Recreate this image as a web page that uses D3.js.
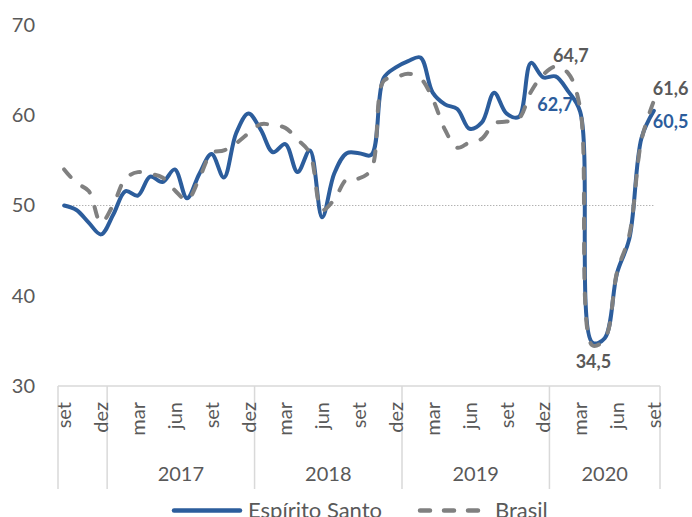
<!DOCTYPE html>
<html>
<head>
<meta charset="utf-8">
<script src="https://cdn.jsdelivr.net/npm/d3@7"></script>
<style>
  body { margin: 0; background: #fff; }
  svg { font-family: Lato, "Noto Sans", sans-serif; }
</style>
</head>
<body>
<div id="chart"></div>
<script>
const categories = [
  'set/2016', 'out/2016', 'nov/2016', 'dez/2016',
  'jan/2017', 'fev/2017', 'mar/2017', 'abr/2017', 'mai/2017', 'jun/2017',
  'jul/2017', 'ago/2017', 'set/2017', 'out/2017', 'nov/2017', 'dez/2017',
  'jan/2018', 'fev/2018', 'mar/2018', 'abr/2018', 'mai/2018', 'jun/2018',
  'jul/2018', 'ago/2018', 'set/2018', 'out/2018', 'nov/2018', 'dez/2018',
  'jan/2019', 'fev/2019', 'mar/2019', 'abr/2019', 'mai/2019', 'jun/2019',
  'jul/2019', 'ago/2019', 'set/2019', 'out/2019', 'nov/2019', 'dez/2019',
  'jan/2020', 'fev/2020', 'mar/2020', 'abr/2020', 'mai/2020', 'jun/2020',
  'jul/2020', 'ago/2020', 'set/2020'
];

const espiritoSanto = [
  50.0, 49.5, 48.1, 46.8,
  49.0, 51.6, 51.1, 53.2, 52.6, 54.0, 50.8, 53.5, 55.7, 53.1, 58.0, 60.2,
  58.4, 55.9, 56.8, 53.7, 56.1, 48.7, 53.6, 55.8, 55.8, 55.6, 64.1, 65.3,
  66.0, 66.4, 62.5, 61.2, 60.7, 58.5, 59.2, 62.5, 60.2, 59.8, 65.8, 64.2,
  64.3, 62.7, 60.4, 34.8, 35.3, 42.5, 46.3, 57.5, 60.5
];

const brasil = [
  54.0, 52.5, 51.6, 48.1,
  50.1, 53.0, 53.7, 53.5, 53.1, 51.7, 50.6, 53.0, 55.8, 56.1, 56.9, 58.0,
  59.0, 58.9, 58.6, 57.3, 55.8, 49.5, 50.7, 52.9, 53.0, 54.0, 63.8, 64.2,
  64.6, 64.1, 61.8, 58.4, 56.4, 57.0, 57.4, 59.1, 59.3, 59.6, 62.6, 64.5,
  65.4, 64.7, 60.8, 34.5, 35.2, 42.6, 46.7, 57.3, 61.6
];

const reference = 50;
const yTicks = [30, 40, 50, 60, 70];
const shownMonths = ['set', 'dez', 'mar', 'jun'];

// labelled points: [category, series, text]
const labels = [
  ['fev/2020', 'br', '64,7'],
  ['fev/2020', 'es', '62,7'],
  ['abr/2020', 'br', '34,5'],
  ['set/2020', 'br', '61,6'],
  ['set/2020', 'es', '60,5']
];

const width = 692, height = 517;
const blue = '#2c5d9c', gray = '#808080', text = '#595959';

const svg = d3.select('#chart').append('svg')
  .attr('width', width)
  .attr('height', height);

const x = d3.scaleBand()
  .domain(categories)
  .range([58, 660]);
const cx = c => x(c) + x.bandwidth() / 2;

const y = d3.scaleLinear()
  .domain([30, 70])
  .range([386, 25]);

// y axis labels
const yAxis = svg.append('g')
  .attr('transform', 'translate(58,0)')
  .call(d3.axisLeft(y).tickValues(yTicks).tickSize(0).tickPadding(23));
yAxis.select('.domain').remove();
yAxis.selectAll('text')
  .attr('fill', text)
  .style('font-size', '20px')
  .style('font-family', 'Lato, sans-serif');

// x axis
const axis = svg.append('g');
axis.append('line')
  .attr('x1', 58).attr('x2', 660)
  .attr('y1', y(30)).attr('y2', y(30))
  .attr('stroke', '#d9d9d9').attr('stroke-width', 1.5);

const year = c => c.split('/')[1];
const years = Array.from(new Set(categories.map(year)));
const groups = years.map(yr => {
  const cs = categories.filter(c => year(c) === yr);
  return { yr, x0: x(cs[0]), x1: x(cs[cs.length - 1]) + x.bandwidth(), n: cs.length };
});

const seps = [groups[0].x0].concat(groups.map(g => g.x1));
axis.selectAll('.sep')
  .data(seps)
  .enter().append('line')
  .attr('x1', d => d).attr('x2', d => d)
  .attr('y1', y(30)).attr('y2', 489)
  .attr('stroke', '#d9d9d9').attr('stroke-width', 1.5);

axis.selectAll('.month')
  .data(categories.filter(c => shownMonths.includes(c.split('/')[0])))
  .enter().append('text')
  .attr('transform', d => `translate(${cx(d)},402) rotate(-90)`)
  .attr('dy', '0.36em')
  .attr('text-anchor', 'end')
  .attr('fill', text)
  .style('font-size', '20px')
  .text(d => d.split('/')[0]);

axis.selectAll('.year')
  .data(groups.filter(g => g.n > 4))
  .enter().append('text')
  .attr('x', d => (d.x0 + d.x1) / 2)
  .attr('y', 481)
  .attr('text-anchor', 'middle')
  .attr('fill', text)
  .style('font-size', '20px')
  .text(d => d.yr);

// reference line at 50
svg.append('line')
  .attr('x1', cx(categories[0])).attr('x2', cx(categories[categories.length - 1]))
  .attr('y1', y(reference)).attr('y2', y(reference))
  .attr('stroke', '#a6a6a6')
  .attr('stroke-width', 1.2)
  .attr('stroke-dasharray', '1.2,1.8');

const line = d3.line()
  .x((d, i) => cx(categories[i]))
  .y(d => y(d))
  .curve(d3.curveCatmullRom.alpha(0.5));

svg.append('path')
  .attr('d', line(espiritoSanto))
  .attr('fill', 'none')
  .attr('stroke', blue)
  .attr('stroke-width', 4)
  .attr('stroke-linejoin', 'round')
  .attr('stroke-linecap', 'round');

svg.append('path')
  .attr('d', line(brasil))
  .attr('fill', 'none')
  .attr('stroke', gray)
  .attr('stroke-width', 4)
  .attr('stroke-linecap', 'round')
  .attr('stroke-dasharray', '10,15');

// data labels
const series = { es: espiritoSanto, br: brasil };
const offsets = {
  '64,7': [3, -11, 'middle'],
  '62,7': [5, 20, 'end'],
  '34,5': [1, 23, 'middle'],
  '61,6': [-1, -6, 'start'],
  '60,5': [-1, 17, 'start']
};
svg.selectAll('.label')
  .data(labels)
  .enter().append('text')
  .attr('x', d => cx(d[0]) + offsets[d[2]][0])
  .attr('y', d => y(series[d[1]][categories.indexOf(d[0])]) + offsets[d[2]][1])
  .attr('text-anchor', d => offsets[d[2]][2])
  .attr('fill', d => d[1] === 'es' ? blue : text)
  .style('font-size', '18px')
  .style('font-weight', 'bold')
  .text(d => d[2]);

// legend
const legend = svg.append('g');
legend.append('line')
  .attr('x1', 174).attr('x2', 240)
  .attr('y1', 510.5).attr('y2', 510.5)
  .attr('stroke', blue).attr('stroke-width', 4.5).attr('stroke-linecap', 'round');
legend.append('text')
  .attr('x', 248).attr('y', 518)
  .attr('fill', text)
  .style('font-size', '22px')
  .text('Espírito Santo');
legend.append('line')
  .attr('x1', 420).attr('x2', 486)
  .attr('y1', 510.5).attr('y2', 510.5)
  .attr('stroke', gray).attr('stroke-width', 4.5).attr('stroke-linecap', 'round')
  .attr('stroke-dasharray', '10,14');
legend.append('text')
  .attr('x', 495).attr('y', 518)
  .attr('fill', text)
  .style('font-size', '22px')
  .text('Brasil');
</script>
</body>
</html>
